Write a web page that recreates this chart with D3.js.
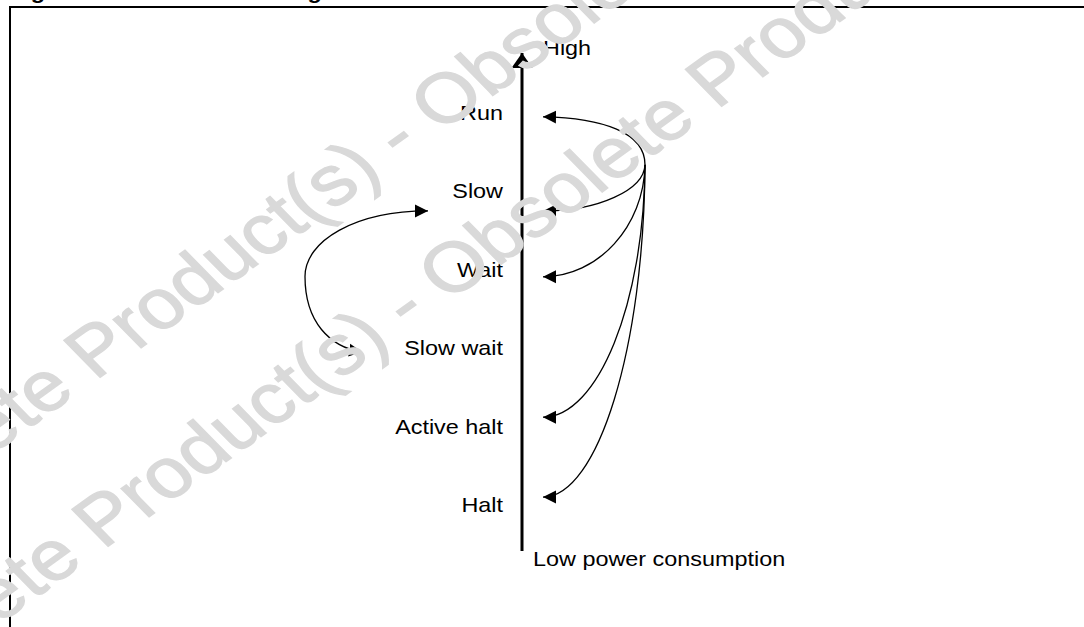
<!DOCTYPE html>
<html>
<head>
<meta charset="utf-8">
<script src="https://cdn.jsdelivr.net/npm/d3@7"></script>
<style>
  html, body { margin: 0; padding: 0; background: #fff; }
  svg { display: block; }
  text { font-family: "Liberation Sans", Arial, Helvetica, sans-serif; }
</style>
</head>
<body>
<div id="app"></div>
<script>
// power modes, from highest to lowest consumption
const modes = ["Run", "Slow", "Wait", "Slow wait", "Active halt", "Halt"]
const axisLabels = ["High", "Low power consumption"]
const titleParts = ["Figure 7.", "Power saving mode transitions"]

// transitions leaving Run (arrow levels, in mode steps)
const runTargets = ["Run", "Slow", "Wait", "Active halt", "Halt"]
const runArrowLevels = [-0.04, 1.16, 2.0, 3.79, 4.81]
const pivotLevel = 0.57

// two-way loop between Slow and Slow wait
const loopModes = ["Slow", "Slow wait"]
const loopArrowLevels = [1.16, 2.96]

const watermarkBefore = "Obsolete Product(s) - Obsolete "
const watermarkAfter = "Product(s) - Obsolete Product(s) - Obsolete Product(s)"

var width = 1084, height = 627
var stretch = 1.17 // the picture is a bit wider than tall

var svg = d3.select("#app")
  .append("svg")
  .attr("width", width)
  .attr("height", height)

var y = d3.scaleLinear()
  .domain([0, modes.length - 1])
  .range([120, 512])

var axisX = 522, labelX = 503, tipX = 543, pivotX = 645

// arrow heads
var defs = svg.append("defs")
defs.append("marker")
  .attr("id", "head")
  .attr("markerUnits", "userSpaceOnUse")
  .attr("markerWidth", 14).attr("markerHeight", 14)
  .attr("viewBox", "0 0 14 14")
  .attr("refX", 13).attr("refY", 7)
  .attr("orient", "auto-start-reverse")
  .append("path")
  .attr("d", "M0,0.5 L13,7 L0,13.5 Z")
  .attr("fill", "#000")

defs.append("marker")
  .attr("id", "bigHead")
  .attr("markerUnits", "userSpaceOnUse")
  .attr("markerWidth", 16).attr("markerHeight", 21)
  .attr("viewBox", "0 0 16 21")
  .attr("refX", 15).attr("refY", 10.5)
  .attr("orient", "auto")
  .append("path")
  .attr("d", "M0,0 L15,10.5 L0,21 Z")
  .attr("fill", "#000")

// frame and (clipped) title
svg.append("path")
  .attr("d", "M10," + height + " L10,7 L" + width + ",7")
  .attr("fill", "none")
  .attr("stroke", "#000")
  .attr("stroke-width", 2)

svg.selectAll(".title")
  .data(titleParts)
  .enter()
  .append("text")
  .attr("class", "title")
  .attr("transform", (d, i) => "translate(" + (i ? 171 : 10) + ",-1) scale(" + stretch + ",1)")
  .attr("font-size", 20)
  .attr("font-weight", "bold")
  .text(d => d)

// power axis
svg.append("line")
  .attr("x1", axisX).attr("x2", axisX)
  .attr("y1", 551).attr("y2", 53)
  .attr("stroke", "#000")
  .attr("stroke-width", 3)
  .attr("marker-end", "url(#bigHead)")

svg.selectAll(".axisLabel")
  .data(axisLabels)
  .enter()
  .append("text")
  .attr("class", "axisLabel")
  .attr("transform", (d, i) => i ? "translate(533,566) scale(" + stretch + ",1)" : "translate(543,55) scale(" + stretch + ",1)")
  .attr("font-size", 20)
  .text(d => d)

// mode labels
svg.selectAll(".mode")
  .data(modes)
  .enter()
  .append("text")
  .attr("class", "mode")
  .attr("transform", (d, i) => "translate(" + labelX + "," + y(i) + ") scale(" + stretch + ",1)")
  .attr("text-anchor", "end")
  .attr("font-size", 20)
  .text(d => d)

// transitions from Run
var py = y(pivotLevel)
function runCurve(level) {
  var ey = y(level)
  if (ey < py) {
    return "M" + pivotX + "," + py + " C" + pivotX + "," + (py - 32) + " " + (tipX + 60) + "," + (ey + 1) + " " + tipX + "," + ey
  }
  var dy = ey - py
  return "M" + pivotX + "," + py +
    " C" + (pivotX - 1) + "," + (py + 0.55 * dy) + " " + (tipX + 55) + "," + ey + " " + tipX + "," + ey
}

svg.selectAll(".run")
  .data(runTargets)
  .enter()
  .append("path")
  .attr("class", "run")
  .attr("d", (d, i) => runCurve(runArrowLevels[i]))
  .attr("fill", "none")
  .attr("stroke", "#000")
  .attr("stroke-width", 1.3)
  .attr("marker-end", "url(#head)")

// Slow <-> Slow wait loop
var ya = y(loopArrowLevels[0]), yb = y(loopArrowLevels[1])
var leftX = 305
svg.append("path")
  .datum(loopModes)
  .attr("d", "M428," + ya +
    " C355," + ya + " " + leftX + "," + (ya + 30) + " " + leftX + "," + ((ya + yb) / 2 - 5) +
    " C" + leftX + "," + (yb - 30) + " " + (leftX + 25) + "," + (yb - 5) + " 362," + yb)
  .attr("fill", "none")
  .attr("stroke", "#000")
  .attr("stroke-width", 1.3)
  .attr("marker-start", "url(#head)")
  .attr("marker-end", "url(#head)")

// obsolete watermark, painted over everything
var wm = svg.append("g")
  .attr("fill", "#d9d9d9")
  .attr("stroke", "#d9d9d9")
  .attr("stroke-width", 1.3)
  .attr("font-size", 70)

var wmOrigins = [[95, 381], [103, 550]]
wmOrigins.forEach(o => {
  var line = wm.append("g")
    .attr("transform", "translate(" + o[0] + "," + o[1] + ") scale(" + stretch + ",1) rotate(-40)")
  line.append("text")
    .attr("text-anchor", "end")
    .style("white-space", "pre")
    .text(watermarkBefore)
  line.append("text")
    .text(watermarkAfter)
})
</script>
</body>
</html>
